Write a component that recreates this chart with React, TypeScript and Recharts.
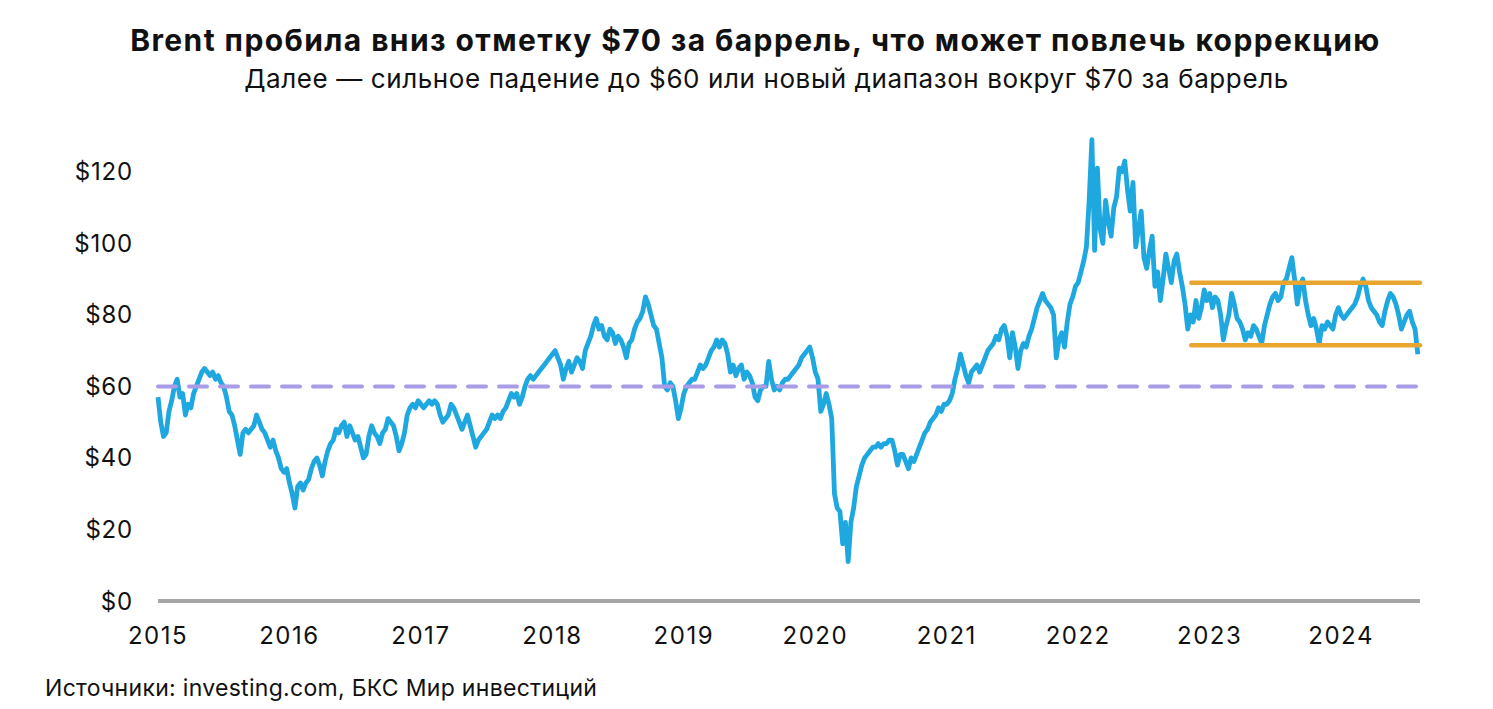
import { Line, LineChart, ReferenceLine, XAxis, YAxis } from "recharts";

// Brent, USD per barrel, ~weekly points (48 per year)
const brent2015 = [
  57, 50, 46, 47, 53, 56, 60, 62, 57, 58, 52, 55, 54, 58, 60, 62, 64, 65, 64, 63, 64, 62, 63, 61,
  60, 57, 53, 52, 49, 45, 41, 47, 48, 47, 48, 49, 52, 50, 48, 47, 45, 43, 45, 42, 40, 37, 36, 37,
];
const brent2016 = [
  33, 30, 26, 32, 33, 31, 33, 34, 37, 39, 40, 38, 35, 39, 42, 44, 45, 48, 47, 49, 50, 46, 49, 47,
  45, 46, 43, 40, 41, 46, 49, 47, 46, 44, 47, 48, 51, 50, 49, 46, 42, 44, 47, 52, 54, 55, 54, 56,
];
const brent2017 = [
  55, 54, 55, 56, 55, 56, 55, 52, 50, 51, 52, 55, 54, 52, 50, 48, 50, 52, 49, 46, 43, 45, 46, 47,
  48, 50, 52, 51, 52, 51, 53, 54, 56, 58, 57, 58, 55, 57, 60, 62, 63, 62, 63, 64, 65, 66, 67, 68,
];
const brent2018 = [
  69, 70, 68, 66, 62, 65, 67, 64, 66, 68, 67, 65, 70, 72, 74, 77, 79, 76, 77, 74, 73, 76, 75, 72,
  74, 73, 71, 68, 72, 73, 76, 78, 79, 81, 85, 83, 80, 77, 76, 72, 68, 60, 59, 61, 60, 56, 51, 54,
];
const brent2019 = [
  58, 60, 61, 62, 62, 64, 66, 65, 66, 68, 70, 71, 73, 71, 73, 72, 69, 64, 66, 63, 65, 66, 62, 64,
  63, 61, 57, 56, 59, 60, 60, 67, 62, 59, 60, 59, 61, 62, 62, 63, 64, 65, 66, 68, 69, 70, 71, 68,
];
const brent2020 = [
  64, 62, 53, 55, 58, 55, 51, 30, 26, 25, 16, 22, 11, 22, 26, 32, 35, 38, 40, 41, 42, 43, 43, 44,
  43, 44, 44, 45, 45, 42, 38, 41, 41, 39, 37, 40, 39, 41, 43, 45, 47, 48, 50, 51, 52, 54, 53, 55,
];
const brent2021 = [
  55, 56, 58, 62, 65, 69, 66, 63, 61, 64, 65, 66, 64, 66, 68, 70, 71, 72, 74, 73, 76, 77, 74, 68,
  75, 71, 65, 70, 72, 71, 74, 76, 79, 82, 84, 86, 84, 83, 82, 80, 68, 73, 75, 71, 78, 83, 85, 88,
];
const brent2022 = [
  89, 92, 95, 99, 112, 129, 98, 121, 104, 100, 112, 106, 102, 110, 113, 121, 120, 123, 115, 109, 117, 99, 104, 109,
  96, 93, 98, 102, 88, 92, 84, 90, 97, 93, 89, 95, 97, 92, 88, 83, 76, 80, 78, 84, 79, 82, 87, 84,
];
const brent2023 = [
  86, 82, 85, 84, 80, 73, 77, 80, 86, 83, 79, 78, 76, 73, 75, 74, 77, 76, 74, 72, 77, 80, 83, 85,
  86, 84, 85, 89, 90, 93, 96, 90, 83, 88, 90, 84, 80, 77, 79, 76, 72, 77, 76, 78, 77, 76, 80, 82,
];
const brent2024 = [
  80, 79, 80, 81, 82, 83, 85, 88, 90, 88, 84, 82, 81, 80, 78, 77, 81, 84, 86, 85, 83, 80, 76, 78,
  80, 81, 78, 76, 69,
];

const years = [2015, 2016, 2017, 2018, 2019, 2020, 2021, 2022, 2023, 2024];
const series = [brent2015, brent2016, brent2017, brent2018, brent2019, brent2020, brent2021, brent2022, brent2023, brent2024];
const priceTicks = [0, 20, 40, 60, 80, 100, 120];

// levels from the picture
const supportLevel = 60;
const rangeTop = 89;
const rangeBottom = 71.5;
const rangeStart = 2022.86;
const xEnd = 2024.6;

const rows = years.flatMap((y, k) => series[k].map((v, i) => ({ t: y + i / 48, price: v })));

const font = "Inter, 'Noto Sans', sans-serif";

export default function App() {
  return (
    <div style={{ position: "absolute", left: 0, top: 0, width: 1493, height: 709, background: "#fff", fontFamily: font, color: "#111" }}>
      <div style={{ position: "absolute", left: 0, top: 22, width: 1511, textAlign: "center", fontSize: 30, fontWeight: 700, letterSpacing: 1.4, whiteSpace: "nowrap" }}>
        Brent пробила вниз отметку $70 за баррель, что может повлечь коррекцию
      </div>
      <div style={{ position: "absolute", left: 0, top: 63, width: 1533, textAlign: "center", fontSize: 26, letterSpacing: 0.6, whiteSpace: "nowrap" }}>
        Далее — сильное падение до $60 или новый диапазон вокруг $70 за баррель
      </div>
      <div style={{ position: "absolute", top: 0, left: 0 }}>
        <LineChart width={1493} height={709} data={rows} margin={{ top: 136, right: 73, bottom: 68, left: 0 }}>
          <XAxis
            dataKey="t"
            type="number"
            domain={[2015, xEnd]}
            ticks={years}
            interval={0}
            height={40}
            tickLine={false}
            tickSize={0}
            tickMargin={26}
            axisLine={{ stroke: "#a6a6a6", strokeWidth: 4 }}
            tick={{ fontSize: 24, fill: "#111", fontFamily: font, letterSpacing: 1.5 }}
          />
          <YAxis
            type="number"
            domain={[0, 130]}
            ticks={priceTicks}
            width={158}
            axisLine={false}
            tickLine={false}
            tickSize={0}
            tickMargin={25}
            tickFormatter={(v) => `$${v}`}
            tick={{ fontSize: 24, fill: "#111", fontFamily: font, letterSpacing: 0.8 }}
          />
          <Line
            type="linear"
            dataKey="price"
            stroke="#1fa8e0"
            strokeWidth={4.8}
            strokeLinejoin="round"
            dot={false}
            isAnimationActive={false}
          />
          <ReferenceLine y={supportLevel} stroke="#a99be6" strokeWidth={4} strokeDasharray="18 13" strokeLinecap="round" />
          <ReferenceLine
            segment={[{ x: rangeStart, y: rangeTop }, { x: xEnd, y: rangeTop }]}
            stroke="#e8a630"
            strokeWidth={4.5}
            strokeLinecap="round"
          />
          <ReferenceLine
            segment={[{ x: rangeStart, y: rangeBottom }, { x: xEnd, y: rangeBottom }]}
            stroke="#e8a630"
            strokeWidth={4.5}
            strokeLinecap="round"
          />
        </LineChart>
      </div>
      <div style={{ position: "absolute", left: 45, top: 674, fontSize: 23, letterSpacing: 0.3, whiteSpace: "nowrap" }}>
        Источники: investing.com, БКС Мир инвестиций
      </div>
    </div>
  );
}
